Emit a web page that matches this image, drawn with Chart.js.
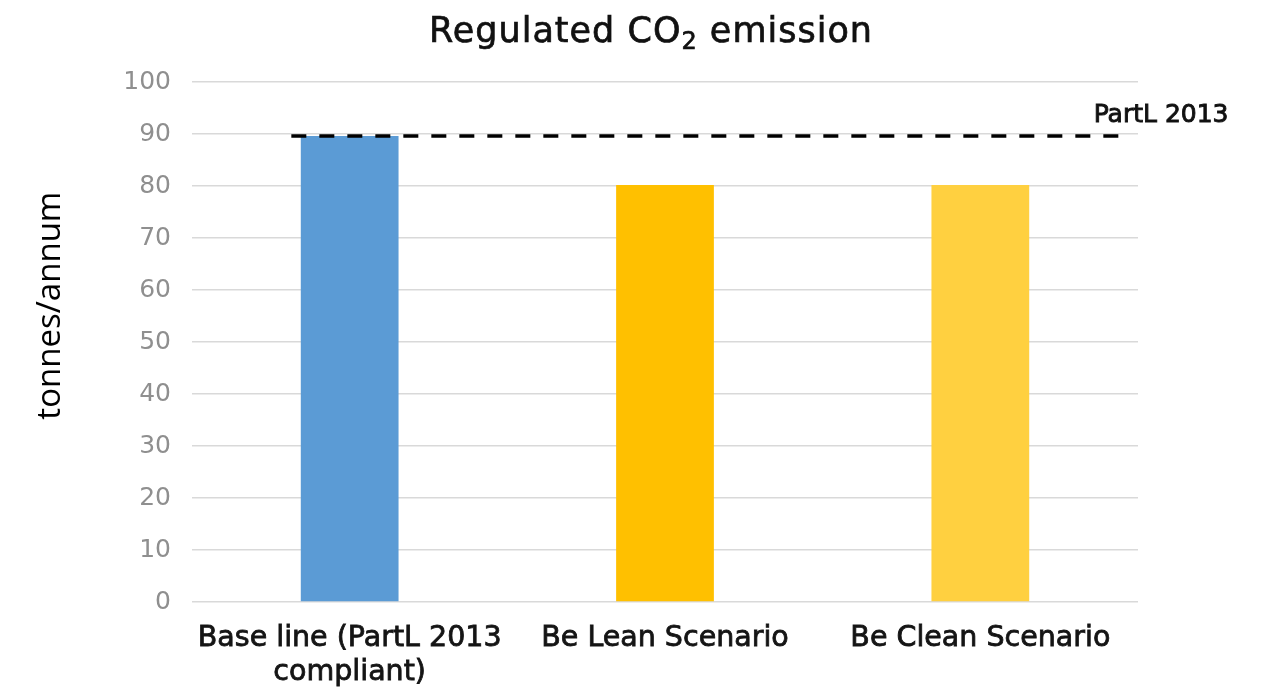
<!DOCTYPE html>
<html>
<head>
<meta charset="utf-8">
<script src="https://cdn.jsdelivr.net/npm/chart.js@4/dist/chart.umd.min.js"></script>
<style>
  html, body { margin: 0; padding: 0; background: #ffffff; }
  #wrap { width: 1266px; height: 691px; position: relative; }
</style>
</head>
<body>
<div id="wrap"><canvas id="c" width="1266" height="691"></canvas></div>
<script>
// Scenario categories and regulated CO2 emissions (tonnes/annum)
const categories = [["Base line (PartL 2013", "compliant)"], "Be Lean Scenario", "Be Clean Scenario"];
const emissions = [89.6, 80.2, 80.2];
const barColors = ["#5b9bd5", "#ffc000", "#ffd040"];

// Part L 2013 reference level and the category span (in category index units) it covers
const partLLevel = 89.6;
const partLSpan = [-0.185, 2.445];
const partLLabel = "PartL 2013";

// Value axis
const yTicks = { min: 0, max: 100, step: 10 };
const yAxisTitle = "tonnes/annum";

const FONT = "'DejaVu Sans', sans-serif";

// Title with a real subscript in CO2
const titlePlugin = {
  id: 'subscriptTitle',
  afterDraw(chart) {
    const ctx = chart.ctx;
    const parts = [
      { t: 'Regulated CO', size: 35, dy: 0 },
      { t: '2', size: 24, dy: 7 },
      { t: ' emission', size: 35, dy: 0 }
    ];
    ctx.save();
    ctx.fillStyle = '#111111';
    ctx.strokeStyle = '#111111';
    ctx.lineWidth = 0.7;
    ctx.textBaseline = 'alphabetic';
    ctx.textAlign = 'left';
    ctx.letterSpacing = '1px';
    let total = 0;
    parts.forEach(p => { ctx.font = p.size + 'px ' + FONT; p.w = ctx.measureText(p.t).width; total += p.w; });
    let x = chart.width / 2 + 18 - total / 2;
    const base = 42;
    parts.forEach(p => {
      ctx.font = p.size + 'px ' + FONT;
      ctx.fillText(p.t, x, base + p.dy);
      ctx.strokeText(p.t, x, base + p.dy);
      x += p.w;
    });
    ctx.restore();
  }
};

// Vertical axis title, set a little above the middle of the value axis
const yTitlePlugin = {
  id: 'yTitle',
  afterDraw(chart) {
    const area = chart.chartArea;
    const ctx = chart.ctx;
    ctx.save();
    ctx.translate(51, area.top + (area.bottom - area.top) * 0.43);
    ctx.rotate(-Math.PI / 2);
    ctx.font = "33px 'Open Sans', sans-serif";
    ctx.fillStyle = '#000000';
    ctx.textAlign = 'center';
    ctx.textBaseline = 'middle';
    ctx.fillText(yAxisTitle, 0, 0);
    ctx.restore();
  }
};

// Dashed Part L 2013 line, placed through the chart's own scales, plus its label
const partLPlugin = {
  id: 'partLLine',
  afterDatasetsDraw(chart) {
    const xs = chart.scales.x, ys = chart.scales.y;
    const x0 = xs.getPixelForValue(partLSpan[0]);
    const x1 = xs.getPixelForValue(partLSpan[1]);
    const y = ys.getPixelForValue(partLLevel);
    const ctx = chart.ctx;
    ctx.save();
    ctx.strokeStyle = '#000000';
    ctx.lineWidth = 3.5;
    ctx.setLineDash([15, 13]);
    ctx.beginPath();
    ctx.moveTo(x0, y);
    ctx.lineTo(x1, y);
    ctx.stroke();
    ctx.setLineDash([]);
    ctx.font = "25px " + FONT;
    ctx.fillStyle = '#111111';
    ctx.strokeStyle = '#111111';
    ctx.lineWidth = 0.9;
    ctx.textAlign = 'left';
    ctx.textBaseline = 'alphabetic';
    ctx.fillText(partLLabel, x1 - 27, y - 14);
    ctx.strokeText(partLLabel, x1 - 27, y - 14);
    ctx.restore();
  }
};

new Chart(document.getElementById('c'), {
  type: 'bar',
  data: {
    labels: categories,
    datasets: [
      {
        label: 'Regulated CO2',
        data: emissions,
        backgroundColor: barColors,
        borderWidth: 0,
        barPercentage: 0.31,
        categoryPercentage: 1.0
      }
    ]
  },
  options: {
    responsive: false,
    animation: false,
    devicePixelRatio: 1,
    layout: { padding: { left: 0, right: 128, top: 82, bottom: 0 } },
    plugins: {
      legend: { display: false },
      tooltip: { enabled: false },
      title: { display: false }
    },
    scales: {
      x: {
        type: 'category',
        offset: true,
        grid: { display: false, drawTicks: false },
        border: { display: false },
        ticks: {
          color: '#141414',
          textStrokeColor: '#141414',
          textStrokeWidth: 0.8,
          padding: 19,
          maxRotation: 0,
          autoSkip: false,
          font: { family: FONT, size: 28.5, weight: '400', lineHeight: 1.2 }
        },
        afterFit(scale) { scale.height = 89; }
      },
      y: {
        min: yTicks.min,
        max: yTicks.max,
        grid: { color: '#d9d9d9', lineWidth: 1.5, drawTicks: false },
        border: { display: false },
        ticks: {
          stepSize: yTicks.step,
          color: '#8f8f8f',
          padding: 21,
          font: { family: FONT, size: 25, weight: '400' }
        },
        title: { display: false },
        afterFit(scale) { scale.width = 192; }
      }
    }
  },
  plugins: [partLPlugin, titlePlugin, yTitlePlugin]
});
</script>
</body>
</html>
